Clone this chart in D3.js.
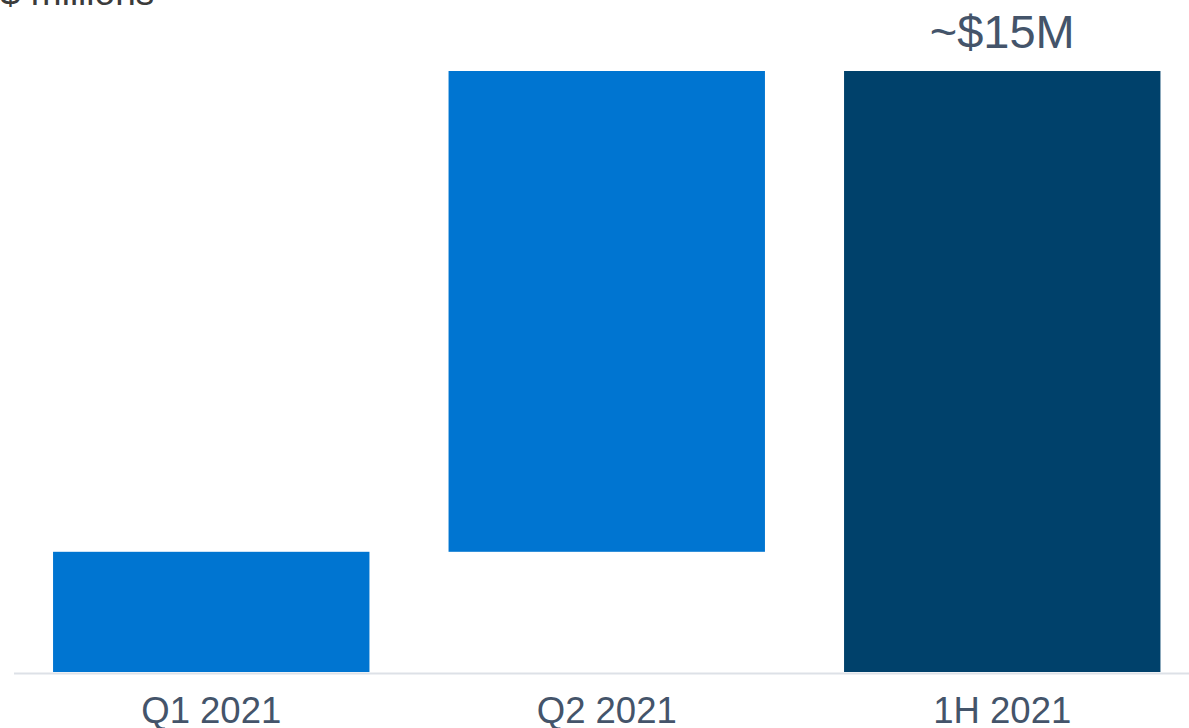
<!DOCTYPE html>
<html>
<head>
<meta charset="utf-8">
<script src="https://cdn.jsdelivr.net/npm/d3@7"></script>
<style>
    html, body { margin: 0; padding: 0; background: #fff; overflow: hidden; }
    svg { display: block; font-family: "Liberation Sans", Arial, sans-serif; }
</style>
</head>
<body>
<div id="chart"></div>
<script>
// Waterfall: two quarters stacking into the half-year total ($ millions)
const categories = ['Q1 2021', 'Q2 2021', '1H 2021'];
const values = [3, 12, 15];
const isTotal = [false, false, true];
const totalLabel = '~$15M';
const unitLabel = '$ millions';

const W = 1189, H = 728;
const BLUE = '#0075d1', NAVY = '#00416b', TEXT = '#44546a';

const svg = d3.select('#chart').append('svg')
    .attr('width', W)
    .attr('height', H);

const x = d3.scaleBand()
    .domain(categories)
    .range([13.5, 1200])
    .paddingInner(0.2)
    .paddingOuter(0.1);

const y = d3.scaleLinear()
    .domain([0, 15])
    .range([672, 71]);

// running start/end for each bar
let running = 0;
const bars = categories.map((c, i) => {
    let y0, y1;
    if (isTotal[i]) { y0 = 0; y1 = values[i]; }
    else { y0 = running; y1 = running + values[i]; running = y1; }
    return { cat: c, y0, y1, total: isTotal[i] };
});

svg.selectAll('rect.bar')
    .data(bars)
    .join('rect')
    .attr('class', 'bar')
    .attr('x', d => x(d.cat))
    .attr('width', x.bandwidth())
    .attr('y', d => y(d.y1))
    .attr('height', d => y(d.y0) - y(d.y1))
    .attr('fill', d => d.total ? NAVY : BLUE);

// baseline axis
const xAxis = svg.append('g')
    .attr('transform', `translate(0,${y(0) + 1})`)
    .call(d3.axisBottom(x).tickSize(0).tickPadding(24));
xAxis.select('.domain')
    .attr('stroke', '#dde1e7')
    .attr('stroke-width', 2);
xAxis.selectAll('text')
    .attr('fill', TEXT)
    .style('font-size', '36.5px')
    .style('font-family', '"Liberation Sans", Arial, sans-serif');

// total label
const tot = bars.find(d => d.total);
svg.append('text')
    .attr('x', x(tot.cat) + x.bandwidth() / 2)
    .attr('y', y(tot.y1) - 23)
    .attr('text-anchor', 'middle')
    .attr('fill', TEXT)
    .style('font-size', '47px')
    .text(totalLabel);

// unit label, clipped at the top edge
svg.append('text')
    .attr('x', 0)
    .attr('y', 5)
    .attr('fill', '#3b3b3b')
    .style('font-size', '37px')
    .text(unitLabel);
</script>
</body>
</html>
